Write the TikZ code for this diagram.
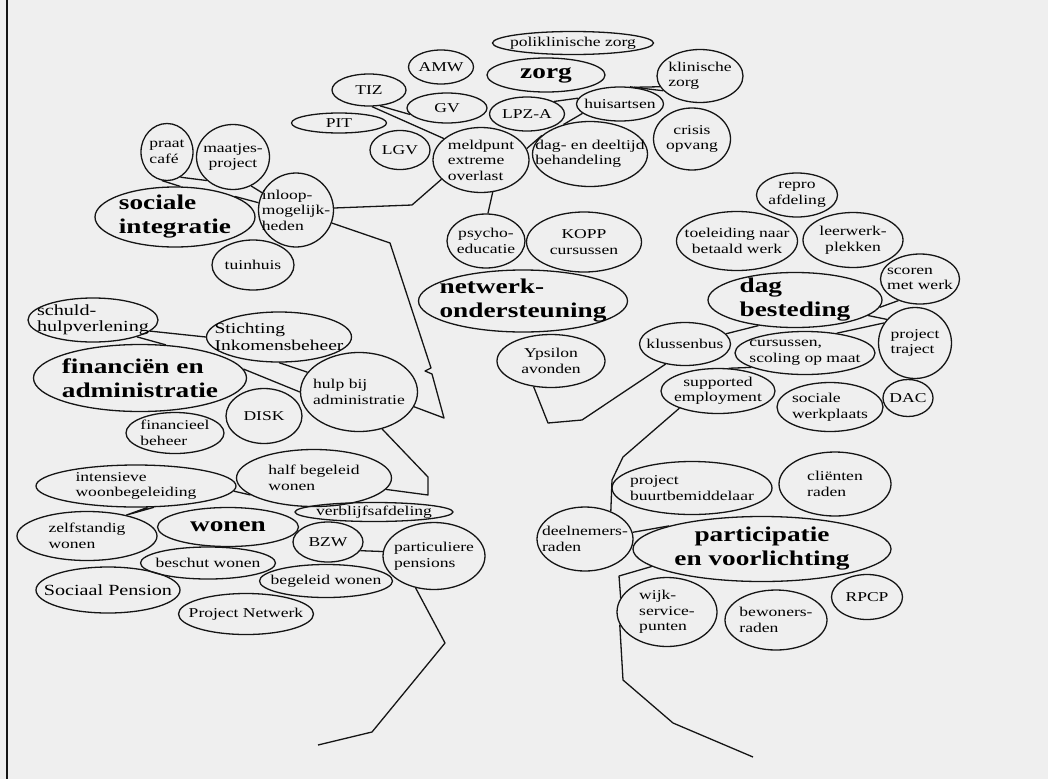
\documentclass[tikz,border=0pt]{standalone}
\usepackage{fontspec}
\setmainfont{Liberation Serif}[FakeStretch=1.3]
\usetikzlibrary{shapes.geometric}
\definecolor{paper}{HTML}{EFEFEF}
\definecolor{ink}{HTML}{151515}
\newcommand{\nodefont}{\fontsize{13.5}{15.5}\selectfont}
\newcommand{\bigfont}{\fontsize{15.5}{16.5}\selectfont}
\newcommand{\headfont}{\fontsize{21}{24}\selectfont\bfseries}
\tikzset{
  bub/.style={ellipse, draw=ink, line width=1.3pt, inner xsep=-14pt, inner ysep=-5pt, align=center, font=\nodefont},
  lbub/.style={bub, align=left},
  head/.style={bub, font=\headfont, align=left},
  sz/.style 2 args={minimum width=#1, minimum height=#2},
  branch/.style={draw=ink, line width=1.3pt, line join=round},
}
\begin{document}
\begin{tikzpicture}[x=1pt, y=-1pt]
  \useasboundingbox (0,0) rectangle (1048,779);
  \fill[paper] (0,0) rectangle (1048,779);
  \draw[ink, line width=1.5pt] (7,0) -- (7,779);
  % zorg
  \node[bub, sz={161}{23}] (poli) at (573,43) {poliklinische zorg};
  \node[head, sz={118}{34}] (zorg) at (546,75) {zorg};
  \node[bub, sz={65}{34}] (amw) at (441,67) {AMW};
  \node[bub, sz={74}{32}] (tiz) at (369,90) {TIZ};
  \node[bub, sz={80}{30}] (gv) at (447,108) {GV};
  \node[bub, sz={95}{20}] (pit) at (339,123) {PIT};
  \node[bub, sz={60}{39}] (lgv) at (400,150) {LGV};
  \node[lbub, sz={96}{65}] (meld) at (481,160) {meldpunt\\extreme\\overlast};
  \node[bub, sz={75}{34}] (lpza) at (527,114) {LPZ-A};
  \node[bub, sz={87}{34}] (huis) at (620,104) {huisartsen};
  \node[lbub, sz={115}{65}] (deeltijd) at (590,154) {dag- en deeltijd\\behandeling};
  \node[lbub, sz={86}{53}] (klin) at (700,76) {klinische\\zorg};
  \node[bub, sz={77}{62}] (crisis) at (692,139) {crisis\\opvang};
  % sociale integratie
  \node[lbub, sz={52}{57}] (praat) at (167,152) {praat\\café};
  \node[bub, sz={73}{65}] (maatjes) at (233,157) {maatjes-\\project};
  \node[lbub, sz={75}{74}] (inloop) at (296,210) {inloop-\\mogelijk-\\heden};
  \node[head, sz={160}{60}] (sociaal) at (175,217) {sociale\\integratie};
  \node[bub, sz={82}{50}] (tuin) at (253,265) {tuinhuis};
  % netwerk
  \node[bub, sz={78}{54}] (psycho) at (486,241) {psycho-\\educatie};
  \node[bub, sz={115}{60}] (kopp) at (584,242) {KOPP\\cursussen};
  \node[head, sz={209}{62}] (netwerk) at (523,301) {netwerk-\\ondersteuning};
  \node[bub, sz={108}{53}] (ypsilon) at (551,361) {Ypsilon\\avonden};
  % dagbesteding
  \node[bub, sz={81}{44}] (repro) at (797,195) {repro\\afdeling};
  \node[bub, sz={121}{59}] (toeleiding) at (737,241) {toeleiding naar\\betaald werk};
  \node[bub, sz={100}{55}] (leerwerk) at (853,240) {leerwerk-\\plekken};
  \node[head, sz={174}{55}] (dag) at (795,300) {dag\\besteding};
  \node[lbub, sz={79}{50}] (scoren) at (920,279) {scoren\\met werk};
  \node[lbub, sz={73}{71}] (traject) at (915,343) {project\\traject};
  \node[bub, sz={91}{43}] (klussen) at (685,344) {klussenbus};
  \node[lbub, sz={140}{43}] (scoling) at (805,353) {cursussen,\\scoling op maat};
  \node[bub, sz={114}{45}] (supported) at (718,391) {supported\\employment};
  \node[lbub, sz={106}{49}] (werkplaats) at (830,407) {sociale\\werkplaats};
  \node[bub, sz={50}{37}] (dac) at (908,398) {DAC};
  % participatie
  \node[lbub, sz={160}{53}] (buurt) at (692,488) {project\\buurtbemiddelaar};
  \node[lbub, sz={112}{64}] (clienten) at (835,484) {cliënten\\raden};
  \node[lbub, sz={96}{64}] (deelnemers) at (585,539) {deelnemers-\\raden};
  \node[head, sz={258}{65}, align=center] (participatie) at (762,549) {participatie\\en voorlichting};
  \node[lbub, sz={100}{69}] (wijk) at (667,612) {wijk-\\service-\\punten};
  \node[lbub, sz={102}{60}] (bewoners) at (776,620) {bewoners-\\raden};
  \node[bub, sz={71}{45}] (rpcp) at (867,597) {RPCP};
  % financien
  \node[lbub, sz={130}{44}, font=\bigfont] (schuld) at (93,320) {schuld-\\hulpverlening};
  \node[lbub, sz={145}{50}, font=\fontsize{15}{16.5}\selectfont] (stichting) at (279,337) {Stichting\\Inkomensbeheer};
  \node[head, sz={213}{67}] (financien) at (140,378) {financiën en\\administratie};
  \node[lbub, sz={117}{79}] (hulp) at (359,392) {hulp bij\\administratie};
  \node[bub, sz={76}{55}] (disk) at (264,416) {DISK};
  \node[lbub, sz={98}{41}] (finbeheer) at (175,433) {financieel\\beheer};
  % wonen
  \node[lbub, sz={155}{57}] (halfbeg) at (314,478) {half begeleid\\wonen};
  \node[lbub, sz={200}{42}] (intensief) at (136,486) {intensieve\\woonbegeleiding};
  \node[lbub, sz={140}{49}] (zelfst) at (87,536) {zelfstandig\\wonen};
  \node[head, sz={141}{39}] (wonen) at (228,527) {wonen};
  \node[bub, sz={158}{19}] (verblijf) at (374,512) {verblijfsafdeling};
  \node[bub, sz={70}{40}] (bzw) at (328,542) {BZW};
  \node[lbub, sz={102}{67}] (pensions) at (434,556) {particuliere\\pensions};
  \node[bub, sz={135}{32}] (beschut) at (208,563) {beschut wonen};
  \node[bub, sz={133}{33}] (begeleid) at (326,581) {begeleid wonen};
  \node[bub, sz={144}{46}, font=\bigfont] (pension) at (108,590) {Sociaal Pension};
  \node[bub, sz={135}{41}] (projnet) at (246,614) {Project Netwerk};
  % stammen
  \coordinate (leftroot) at (318,745);
  \coordinate (rightroot) at (753,757);
  \draw[branch] (pensions.-120) -- (445,643) -- (372,732) -- (leftroot);
  \draw[branch] (bzw.-15) -- (pensions.175);
  \draw[branch] (hulp.-58) -- (428,477) -- (428,495) -- (halfbeg.-9);
  \draw[branch] (intensief.-3) -- (halfbeg.195);
  \draw[branch] (intensief.-50) -- (zelfst.28) -- (intensief.-62);
  \draw[branch] (inloop.-20) -- (390,243) -- (431,368) -- (425,371) -- (432,374) -- (444,418) -- (hulp.-15);
  \draw[branch] (inloop.3) -- (412,205) -- (meld.206);
  \draw[branch] (meld.-70) -- (psycho.86);
  \draw[branch] (ypsilon.236) -- (548,423) -- (582,420) -- (klussen.226);
  \draw[branch] (klussen.14) -- (dag.215);
  \draw[branch] (scoling.32) -- (traject.147);
  \draw[branch] (scoren.225) -- (dag.-5);
  \draw[branch] (dag.-12) -- (traject.140);
  \draw[branch] (supported.204) -- (623,457) -- (612,480) -- (deelnemers.47);
  \draw[branch] (supported.65) -- (scoling.195);
  \draw[branch] (deelnemers.8) -- (participatie.166);
  \draw[branch] (participatie.189) -- (619,576) -- (wijk.163);
  \draw[branch] (wijk.195) -- (623,680) -- (673,723) -- (rightroot);
  \draw[branch] (tiz.-80) -- (meld.150);
  \draw[branch] (tiz.-55) -- (gv.190);
  \draw[branch] (praat.-62) -- (maatjes.222);
  \draw[branch] (praat.-100) -- (sociaal.80);
  \draw[branch] (maatjes.-58) -- (inloop.153);
  \draw[branch] (sociaal.19) -- (inloop.169);
  \draw[branch] (schuld.-21) -- (financien.52);
  \draw[branch] (schuld.-11) -- (stichting.180);
  \draw[branch] (stichting.-90) -- (hulp.159);
  \draw[branch] (financien.5) -- (hulp.180);
  \draw[branch] (lpza.25) -- (huis.172);
  \draw[branch] (huis.50) -- (klin.195);
  \draw[branch] (huis.60) -- (klin.202);
  \draw[branch] (huis.194) -- (deeltijd.132);
  \draw[branch] (meld.14) -- (deeltijd.159);
\end{tikzpicture}
\end{document}
